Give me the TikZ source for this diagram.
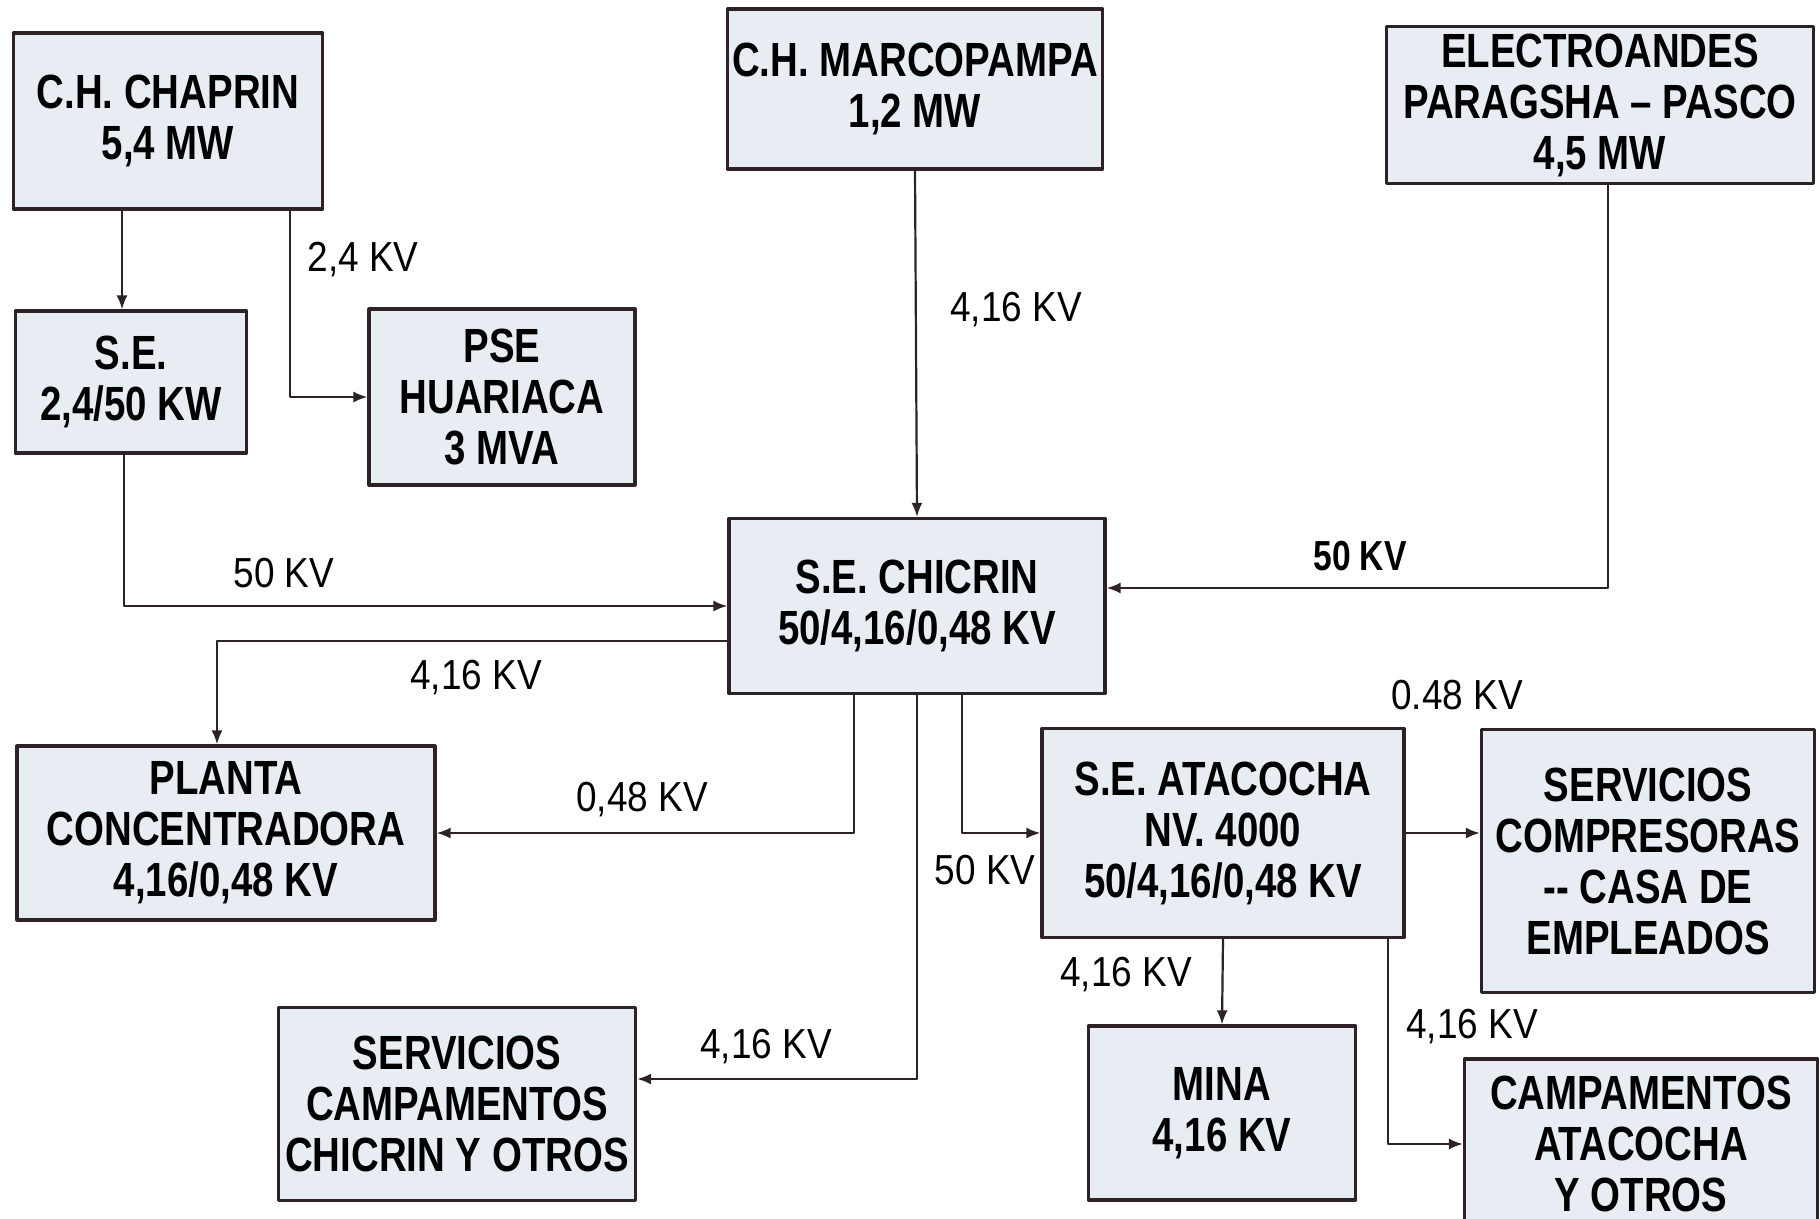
\documentclass[tikz,border=0pt]{standalone}
\usepackage{fontspec}
\setmainfont{Liberation Sans}
\newfontfamily\boxfont{Liberation Sans}[FakeStretch=0.8]
\newfontfamily\lblfont{Liberation Sans}[FakeStretch=0.88]
\usetikzlibrary{arrows.meta}
\definecolor{boxfill}{HTML}{E7EDF3}
\definecolor{wirecol}{HTML}{2E2226}
\begin{document}
\begin{tikzpicture}[x=1pt, y=-1pt, line join=round, >={Latex[length=14pt,width=11pt]},
    blk/.style={draw=wirecol, line width=3.2pt, fill=boxfill, align=center, inner sep=0pt,
        font=\boxfont\bfseries\fontsize{48}{51}\selectfont},
    wire/.style={->, draw=wirecol, line width=2.2pt},
    kv/.style={font=\lblfont\fontsize{42}{46}\selectfont, inner sep=0pt}]
    \useasboundingbox (0,0) rectangle (1820,1218);
    \node[blk, minimum width=309pt, minimum height=176pt] (chaprin) at (168,121) {C.H. CHAPRIN\\5,4 MW};
    \node[blk, minimum width=231pt, minimum height=142pt] (se24) at (131,382) {S.E.\\2,4/50 KW};
    \node[blk, minimum width=266pt, minimum height=176pt] (pse) at (502,397) {PSE\\HUARIACA\\3 MVA};
    \node[blk, minimum width=375pt, minimum height=160pt] (marco) at (915,89) {C.H. MARCOPAMPA\\1,2 MW};
    \node[blk, minimum width=427pt, minimum height=157pt] (electro) at (1600,105) {ELECTROANDES\\PARAGSHA – PASCO\\4,5 MW};
    \node[blk, minimum width=376pt, minimum height=175pt] (chicrin) at (917,606) {S.E. CHICRIN\\50/4,16/0,48 KV};
    \node[blk, minimum width=418pt, minimum height=174pt] (planta) at (226,833) {PLANTA\\CONCENTRADORA\\4,16/0,48 KV};
    \node[blk, minimum width=362pt, minimum height=209pt] (atacocha) at (1223,833) {S.E. ATACOCHA\\NV. 4000\\50/4,16/0,48 KV};
    \node[blk, minimum width=333pt, minimum height=263pt] (servcomp) at (1648,861) {SERVICIOS\\COMPRESORAS\\-- CASA DE\\EMPLEADOS};
    \node[blk, minimum width=357pt, minimum height=193pt] (servcamp) at (457,1104) {SERVICIOS\\CAMPAMENTOS\\CHICRIN Y OTROS};
    \node[blk, minimum width=267pt, minimum height=174pt] (mina) at (1222,1113) {MINA\\4,16 KV};
    \node[blk, minimum width=353pt, minimum height=170pt] (campat) at (1641,1144) {CAMPAMENTOS\\ATACOCHA\\Y OTROS};
    \draw[wire] ([xshift=-9pt]se24.north |- chaprin.south)--([xshift=-9pt]se24.north);
    \draw[wire] ([xshift=122pt]chaprin.south) |- (pse.west);
    \draw[wire] ([xshift=-7pt]se24.south) |- (chicrin.west);
    \draw[wire] (marco.south)--(chicrin.north);
    \draw[wire] ([xshift=8pt]electro.south) |- ([yshift=18pt]chicrin.east);
    \draw[wire] ([yshift=-35pt]chicrin.west) -| ([xshift=-9pt]planta.north);
    \draw[wire] ([xshift=-63pt]chicrin.south) |- (planta.east);
    \draw[wire] (chicrin.south) |- ([yshift=25pt]servcamp.east);
    \draw[wire] ([xshift=45pt]chicrin.south) |- (atacocha.west);
    \draw[wire] (atacocha.east)--(atacocha.east -| servcomp.west);
    \draw[wire] (atacocha.south)--(mina.north);
    \draw[wire] ([xshift=165pt]atacocha.south) |- (campat.west);
    \node[kv] (l24) at (363,260) {2,4 KV};
    \node[kv] (l416a) at (1016,310) {4,16 KV};
    \node[kv] (l50a) at (284,573) {50 KV};
    \node[kv, font=\boxfont\bfseries\fontsize{42}{46}\selectfont] (l50b) at (1360,556) {50 KV};
    \node[kv] (l416b) at (476,678) {4,16 KV};
    \node[kv] (l048a) at (642,800) {0,48 KV};
    \node[kv] (l416c) at (766,1047) {4,16 KV};
    \node[kv] (l50c) at (985,870) {50 KV};
    \node[kv] (l048b) at (1457,695) {0.48 KV};
    \node[kv] (l416d) at (1126,975) {4,16 KV};
    \node[kv] (l416e) at (1472,1027) {4,16 KV};
\end{tikzpicture}
\end{document}
